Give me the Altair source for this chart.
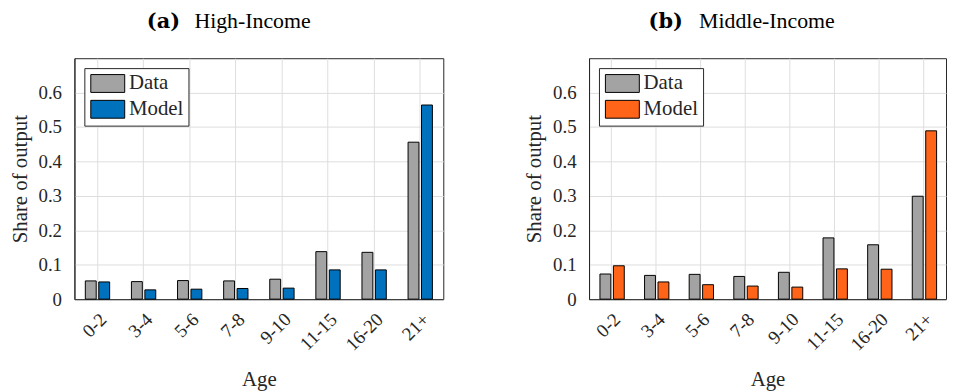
import altair as alt
import pandas as pd

ages = ["0-2", "3-4", "5-6", "7-8", "9-10", "11-15", "16-20", "21+"]
series = ["Data", "Model"]

high_data = [0.053, 0.051, 0.054, 0.053, 0.058, 0.138, 0.136, 0.456]
high_model = [0.050, 0.027, 0.029, 0.031, 0.032, 0.085, 0.085, 0.564]
mid_data = [0.073, 0.069, 0.072, 0.066, 0.078, 0.178, 0.158, 0.299]
mid_model = [0.097, 0.050, 0.042, 0.038, 0.035, 0.088, 0.087, 0.489]

panel_tags = ["(a)", "(b)"]
panel_names = ["High-Income", "Middle-Income"]
model_colors = ["#0072BD", "#FF6419"]
data_color = "#A3A3A3"

y_ticks = [0, 0.1, 0.2, 0.3, 0.4, 0.5, 0.6]

FONT = "Liberation Serif"
DARK = "#262626"


def make_df(d, m):
    rows = []
    for a, dv, mv in zip(ages, d, m):
        rows.append({"age": a, "series": "Data", "value": dv})
        rows.append({"age": a, "series": "Model", "value": mv})
    return pd.DataFrame(rows)


def panel(d, m, tag, name, mcolor, w, tag_x, name_x):
    df = make_df(d, m)
    bars = alt.Chart(df).mark_bar(stroke="black", strokeWidth=1).encode(
        x=alt.X(
            "age:N",
            sort=ages,
            scale=alt.Scale(paddingInner=0, paddingOuter=0),
            axis=alt.Axis(
                title="Age",
                labelAngle=-45,
                labelAlign="right",
                labelBaseline="middle",
                labelFont=FONT,
                labelFontSize=19,
                labelPadding=17,
                labelOffset=6,
                ticks=False,
                grid=True,
                bandPosition=0.5,
                titlePadding=15,
                titleFont=FONT,
            ),
        ),
        xOffset=alt.XOffset(
            "series:N",
            sort=series,
            scale=alt.Scale(paddingInner=0.19, paddingOuter=0.81),
        ),
        y=alt.Y(
            "value:Q",
            scale=alt.Scale(domain=[0, 0.7], nice=False),
            axis=alt.Axis(
                title="Share of output",
                values=y_ticks,
                format=".1~f",
                labelFont=FONT,
                labelFontSize=19,
                labelPadding=13,
                ticks=False,
                grid=True,
                titlePadding=8,
                titleFont=FONT,
            ),
        ),
        color=alt.Color(
            "series:N",
            sort=series,
            scale=alt.Scale(domain=series, range=[data_color, mcolor]),
            legend=alt.Legend(
                title=None,
                orient="none",
                legendX=10,
                legendY=10,
                symbolType="M-1,-1H2.8V1H-1Z",
                symbolSize=324,
                symbolStrokeColor="black",
                symbolStrokeWidth=1,
                symbolOpacity=1,
                labelFont=FONT,
                labelFontSize=21,
                labelColor=DARK,
                labelOffset=19,
                rowPadding=3,
                padding=5,
                fillColor="white",
                strokeColor=DARK,
            ),
        ),
    )
    tag_df = pd.DataFrame({"t": [tag]})
    name_df = pd.DataFrame({"t": [name]})
    tag_text = alt.Chart(tag_df).mark_text(
        font="DejaVu Serif", fontSize=21, fontWeight="bold", align="left",
        baseline="alphabetic", color="black"
    ).encode(x=alt.value(tag_x), y=alt.value(-30), text="t:N")
    name_text = alt.Chart(name_df).mark_text(
        font=FONT, fontSize=22, align="left", baseline="alphabetic", color="black"
    ).encode(x=alt.value(name_x), y=alt.value(-30), text="t:N")
    return alt.layer(bars, tag_text, name_text).properties(width=w, height=243)


left = panel(high_data, high_model, panel_tags[0], panel_names[0], model_colors[0], 372, 73, 121)
right = panel(mid_data, mid_model, panel_tags[1], panel_names[1], model_colors[1], 360, 60, 111)

chart = (
    alt.hconcat(left, right, spacing=79)
    .resolve_scale(color="independent")
    .properties(padding={"left": 0, "top": 0, "right": 0, "bottom": 0})
    .configure_view(stroke=DARK, strokeWidth=1)
    .configure_axis(
        labelFont=FONT,
        titleFont=FONT,
        titleFontSize=21,
        titleFontWeight="normal",
        labelColor=DARK,
        titleColor=DARK,
        domainColor=DARK,
        domainWidth=1,
        gridColor="#DEDEDE",
        gridWidth=1,
    )
    .configure_legend(labelFont=FONT)
)

chart.save("out.html", embed_options={"renderer": "svg", "actions": False})
